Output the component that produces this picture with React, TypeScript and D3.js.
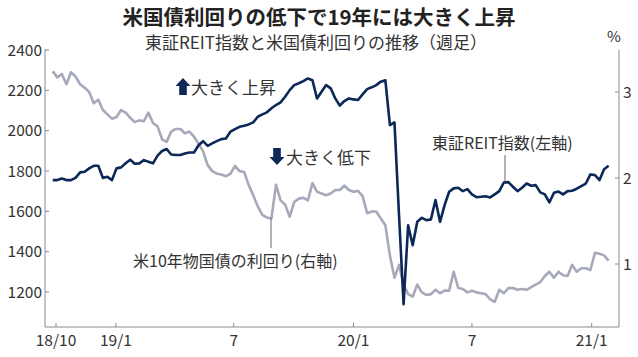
import React from "react";
import * as d3 from "d3";

const REIT_INDEX: number[] = [
  1755, 1755, 1763, 1755, 1755, 1766, 1793, 1796, 1813, 1826,
  1826, 1766, 1771, 1755, 1813, 1818, 1838, 1856, 1836, 1838,
  1854, 1846, 1838, 1876, 1899, 1909, 1882, 1879, 1879, 1887,
  1892, 1892, 1928, 1948, 1925, 1937, 1948, 1958, 1961, 1995,
  2008, 2019, 2024, 2031, 2041, 2069, 2081, 2091, 2111, 2127,
  2140, 2168, 2201, 2226, 2235, 2246, 2259, 2250, 2160, 2193,
  2226, 2210, 2160, 2124, 2147, 2160, 2155, 2152, 2180, 2206,
  2215, 2226, 2243, 2250, 2028, 2041, 1580, 1140, 1531, 1432,
  1548, 1568, 1556, 1560, 1656, 1548, 1631, 1697, 1714, 1717,
  1700, 1710, 1684, 1670, 1672, 1675, 1669, 1684, 1700, 1743,
  1745, 1722, 1700, 1717, 1738, 1727, 1730, 1694, 1684, 1644,
  1692, 1698, 1684, 1700, 1702, 1712, 1725, 1738, 1783, 1780,
  1755, 1809, 1826,
];

const US10Y_YIELD: number[] = [
  3.24, 3.17, 3.21, 3.09, 3.23, 3.18, 3.09, 3.05, 3.0, 2.87,
  2.91, 2.79, 2.74, 2.69, 2.71, 2.79, 2.76, 2.7, 2.65, 2.67,
  2.66, 2.76, 2.64, 2.6, 2.45, 2.42, 2.54, 2.57, 2.57, 2.52,
  2.54, 2.48, 2.4, 2.31, 2.15, 2.08, 2.05, 2.04, 2.02, 2.05,
  2.14, 2.08, 2.07, 1.92, 1.8, 1.67, 1.57, 1.54, 1.53, 1.92,
  1.74, 1.69, 1.55, 1.72, 1.76, 1.77, 1.74, 1.94, 1.84, 1.82,
  1.8, 1.82, 1.86, 1.86, 1.91, 1.86, 1.84, 1.85, 1.79, 1.59,
  1.61, 1.61, 1.53, 1.45, 1.1, 0.84, 0.99, 0.76, 0.65, 0.62,
  0.76, 0.67, 0.64, 0.65, 0.7, 0.66, 0.69, 0.69, 0.91, 0.72,
  0.71, 0.67, 0.69, 0.67, 0.66, 0.65, 0.59, 0.56, 0.7, 0.66,
  0.72, 0.72, 0.7, 0.71, 0.7, 0.73, 0.76, 0.79, 0.86, 0.91,
  0.84, 0.91, 0.87, 0.86, 0.99, 0.91, 0.95, 0.95, 0.93, 1.13,
  1.12, 1.1, 1.04,
];

const FIRST_WEEK = new Date(2018, 8, 26);
const WEEKS: Date[] = REIT_INDEX.map((_, i) => d3.timeDay.offset(FIRST_WEEK, 7 * i));

const X_TICK_DATES: Date[] = [
  new Date(2018, 9, 1),
  new Date(2019, 0, 1),
  new Date(2019, 6, 1),
  new Date(2020, 0, 1),
  new Date(2020, 6, 1),
  new Date(2021, 0, 1),
];
const X_TICK_LABELS: string[] = ["18/10", "19/1", "7", "20/1", "7", "21/1"];
const LEFT_TICKS: number[] = [1200, 1400, 1600, 1800, 2000, 2200, 2400];
const RIGHT_TICKS: number[] = [1, 2, 3];

const TITLE = "米国債利回りの低下で19年には大きく上昇";
const SUBTITLE = "東証REIT指数と米国債利回りの推移（週足）";
const REIT_LABEL = "東証REIT指数(左軸)";
const YIELD_LABEL = "米10年物国債の利回り(右軸)";
const UP_LABEL = "大きく上昇";
const DOWN_LABEL = "大きく低下";

const NAVY = "#0c2857";
const GRAY_LINE = "#a6a9ba";
const AXIS = "#8a8a8a";
const TEXT = "#333333";
const JP = "'Noto Sans CJK JP', 'Noto Sans', sans-serif";
const NUM = "'Noto Sans CJK JP', 'Noto Sans', sans-serif";

const W = 638;
const H = 357;
const L = 45;
const R = 619;
const TOP = 49;
const BOTTOM = 327;

export default function App() {
  const x = d3
    .scaleTime()
    .domain([new Date(2018, 9, 1), new Date(2021, 0, 1)])
    .range([56, 591.7]);
  const yL = d3.scaleLinear().domain([1200, 2400]).range([292, 50]);
  const yR = d3.scaleLinear().domain([1, 3]).range([264, 92]);

  const reitLine = d3
    .line<number>()
    .x((_, i) => x(WEEKS[i]))
    .y((d) => yL(d))
    .curve(d3.curveLinear);
  const yieldLine = d3
    .line<number>()
    .x((_, i) => x(WEEKS[i]))
    .y((d) => yR(d))
    .curve(d3.curveLinear);

  const arrow = (cx: number, top: number, up: boolean) => {
    const h = 17;
    const hw = 7.5;
    const head = 8;
    const sw = 3.8;
    const pts = up
      ? [
          [cx, top],
          [cx + hw, top + head],
          [cx + sw, top + head],
          [cx + sw, top + h],
          [cx - sw, top + h],
          [cx - sw, top + head],
          [cx - hw, top + head],
        ]
      : [
          [cx, top + h],
          [cx + hw, top + h - head],
          [cx + sw, top + h - head],
          [cx + sw, top],
          [cx - sw, top],
          [cx - sw, top + h - head],
          [cx - hw, top + h - head],
        ];
    return <polygon points={pts.map((p) => p.join(",")).join(" ")} fill={NAVY} />;
  };

  return (
    <svg
      width={W}
      height={H}
      style={{ position: "absolute", left: 0, top: 0, background: "#fff" }}
    >
      <rect x={0} y={0} width={W} height={H} fill="#fff" />
      <text x={319} y={25} textAnchor="middle" fontFamily={JP} fontWeight={700} fontSize={20.5} fill="#222">
        {TITLE}
      </text>
      <text x={316} y={49} textAnchor="middle" fontFamily={JP} fontSize={17} fill={TEXT}>
        {SUBTITLE}
      </text>

      {/* axes */}
      <line x1={L} x2={L} y1={TOP} y2={BOTTOM} stroke={AXIS} strokeWidth={1} />
      <line x1={R} x2={R} y1={TOP + 1} y2={BOTTOM} stroke={AXIS} strokeWidth={1} />
      <line x1={L} x2={R} y1={BOTTOM} y2={BOTTOM} stroke={AXIS} strokeWidth={1} />

      {LEFT_TICKS.map((t) => (
        <g key={"l" + t}>
          <line x1={L} x2={L + 4} y1={yL(t)} y2={yL(t)} stroke={AXIS} />
          <text x={L - 3} y={yL(t) + 5.5} textAnchor="end" fontFamily={NUM} fontSize={15.5} fill={TEXT}>
            {t}
          </text>
        </g>
      ))}
      {RIGHT_TICKS.map((t) => (
        <g key={"r" + t}>
          <line x1={R - 4} x2={R} y1={yR(t)} y2={yR(t)} stroke={AXIS} />
          <text x={R + 4} y={yR(t) + 5.5} textAnchor="start" fontFamily={NUM} fontSize={15.5} fill={TEXT}>
            {t}
          </text>
        </g>
      ))}
      <text x={614} y={42} textAnchor="middle" fontFamily={NUM} fontSize={15} fill={TEXT}>
        %
      </text>
      {X_TICK_DATES.map((d, i) => (
        <g key={"x" + i}>
          <line x1={x(d)} x2={x(d)} y1={BOTTOM - 4} y2={BOTTOM} stroke={AXIS} />
          <text x={x(d)} y={346} textAnchor="middle" fontFamily={NUM} fontSize={15.5} fill={TEXT}>
            {X_TICK_LABELS[i]}
          </text>
        </g>
      ))}

      {/* series */}
      <path d={yieldLine(US10Y_YIELD) || ""} fill="none" stroke={GRAY_LINE} strokeWidth={2.6} strokeLinejoin="round" />
      <path d={reitLine(REIT_INDEX) || ""} fill="none" stroke={NAVY} strokeWidth={2.6} strokeLinejoin="round" />

      {/* annotations */}
      {arrow(183, 78, true)}
      <text x={191} y={94} fontFamily={JP} fontSize={17} fill={TEXT}>
        {UP_LABEL}
      </text>
      {arrow(277, 148, false)}
      <text x={286} y={164} fontFamily={JP} fontSize={17} fill={TEXT}>
        {DOWN_LABEL}
      </text>

      <text x={432} y={149} fontFamily={JP} fontSize={16} fill={TEXT}>
        {REIT_LABEL}
      </text>
      <line x1={505} x2={505} y1={155} y2={181} stroke="#666" strokeWidth={1} />

      <text x={133} y={267} fontFamily={JP} fontSize={16} fill={TEXT}>
        {YIELD_LABEL}
      </text>
      <line x1={271} x2={271} y1={218} y2={248} stroke="#666" strokeWidth={1} />
    </svg>
  );
}
